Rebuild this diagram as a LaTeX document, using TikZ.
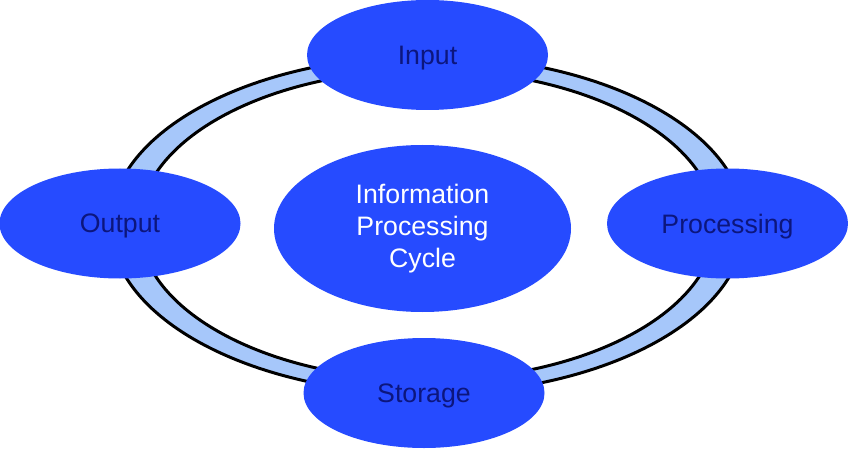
\documentclass[tikz,border=0pt]{standalone}
\usepackage{fontspec}
\setmainfont{Liberation Sans}
\usetikzlibrary{shapes.geometric}
\definecolor{nodeblue}{RGB}{38,75,255}
\definecolor{ringblue}{RGB}{166,199,250}
\definecolor{textnavy}{RGB}{12,22,125}
\tikzset{
  stage/.style={ellipse, fill=nodeblue, minimum width=241pt, minimum height=110pt,
    inner sep=0pt, text depth=0pt, text=textnavy, font=\fontsize{26.7}{32}\selectfont},
  hub/.style={ellipse, fill=nodeblue, minimum width=297pt, minimum height=167pt,
    inner sep=0pt, text=white, align=center, font=\fontsize{26.7}{32}\selectfont},
  ringline/.style={draw=black, line width=3pt}
}
\begin{document}
\begin{tikzpicture}[x=1pt,y=-1pt]
\useasboundingbox (0,0) rectangle (848,449);
\coordinate (ringc) at (427.5,225);
\fill[ringblue, even odd rule] (ringc) ellipse [x radius=317, y radius=169]
  (ringc) ellipse [x radius=288, y radius=155];
\draw[ringline] (ringc) ellipse [x radius=317, y radius=169];
\draw[ringline] (ringc) ellipse [x radius=288, y radius=155];
\node[stage] (input) at (427.5,55) {Input};
\node[stage] (output) at (120,223.5) {Output};
\node[stage] (processing) at (727.5,223.5) {Processing};
\node[stage] (storage) at (424,393) {Storage};
\node[hub] (hub) at (422.5,228.5) {Information\\Processing\\Cycle};
\end{tikzpicture}
\end{document}
